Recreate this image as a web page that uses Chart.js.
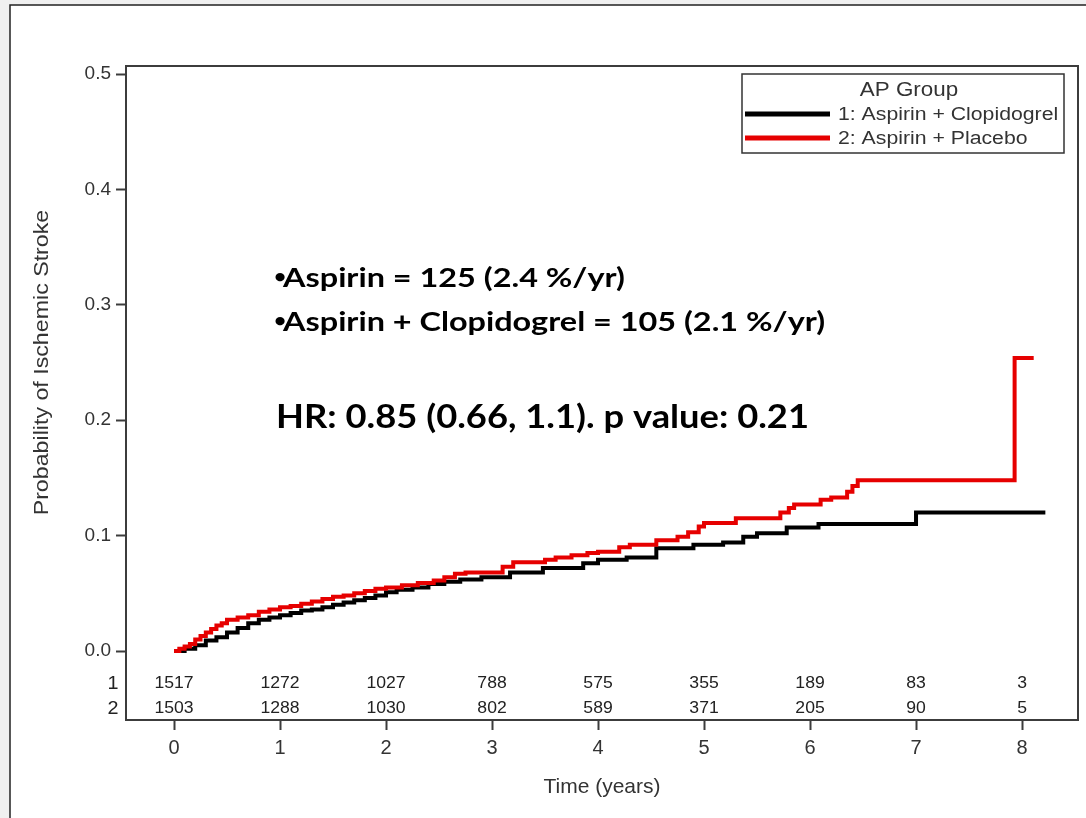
<!DOCTYPE html>
<html>
<head>
<meta charset="utf-8">
<title>Probability of Ischemic Stroke by AP Group</title>
<script src="https://cdn.jsdelivr.net/npm/chart.js@4.4.1/dist/chart.umd.min.js"></script>
<style>
  html, body { margin: 0; padding: 0; background: #f0f0f0; }
  canvas { display: block; }
</style>
</head>
<body>
<canvas id="kmChart" width="1086" height="818"></canvas>
<script>
// groups
const groupLabels = ['1: Aspirin + Clopidogrel', '2: Aspirin + Placebo'];
const groupColors = ['#000000', '#e60000'];

// cumulative incidence steps: time (years) and probability from that time on
const clopTimes = [0, 0.1, 0.2, 0.3, 0.4, 0.5, 0.6, 0.7, 0.8, 0.9, 1.0, 1.1, 1.2, 1.3, 1.4, 1.5, 1.6, 1.7, 1.8, 1.9,
  2.0, 2.1, 2.25, 2.4, 2.55, 2.7, 2.9, 3.17, 3.48, 3.86, 4.0, 4.27, 4.55, 4.9, 5.18, 5.37, 5.5, 5.78, 6.08, 7.0, 8.22];
const clopProb = [0, 0.002, 0.005, 0.009, 0.012, 0.016, 0.020, 0.024, 0.027, 0.029, 0.031, 0.033, 0.035, 0.036, 0.038, 0.040, 0.042, 0.044, 0.046, 0.048,
  0.051, 0.053, 0.055, 0.058, 0.060, 0.062, 0.064, 0.068, 0.072, 0.076, 0.079, 0.081, 0.089, 0.092, 0.094, 0.099, 0.102, 0.107, 0.110, 0.120, 0.120];

const placeboTimes = [0, 0.05, 0.1, 0.15, 0.2, 0.25, 0.3, 0.35, 0.4, 0.45, 0.5, 0.6, 0.7, 0.8, 0.9, 1.0, 1.1, 1.2, 1.3, 1.4, 1.5, 1.6, 1.7, 1.8, 1.9,
  2.0, 2.15, 2.3, 2.45, 2.55, 2.65, 2.75, 3.1, 3.2, 3.5, 3.6, 3.75, 3.9, 4.0, 4.2, 4.3, 4.55, 4.75, 4.85, 4.95, 5.0, 5.3, 5.72, 5.8, 5.85,
  6.1, 6.2, 6.35, 6.4, 6.45, 7.93, 8.11];
const placeboProb = [0, 0.002, 0.004, 0.006, 0.010, 0.013, 0.016, 0.019, 0.022, 0.024, 0.027, 0.029, 0.031, 0.034, 0.036, 0.038, 0.039, 0.041, 0.043, 0.045, 0.047, 0.048, 0.050, 0.052, 0.054,
  0.055, 0.057, 0.059, 0.061, 0.064, 0.067, 0.068, 0.073, 0.077, 0.079, 0.081, 0.083, 0.085, 0.086, 0.090, 0.092, 0.096, 0.099, 0.103, 0.108, 0.111, 0.115, 0.120, 0.124, 0.127,
  0.131, 0.133, 0.138, 0.143, 0.148, 0.254, 0.254];

// axes
const xTicks = [0, 1, 2, 3, 4, 5, 6, 7, 8];
const yTicks = [0, 0.1, 0.2, 0.3, 0.4, 0.5];

// number at risk under each x tick
const atRiskClop = [1517, 1272, 1027, 788, 575, 355, 189, 83, 3];
const atRiskPlacebo = [1503, 1288, 1030, 802, 589, 371, 205, 90, 5];

const eventLines = ['Aspirin = 125 (2.4 %/yr)', 'Aspirin + Clopidogrel = 105 (2.1 %/yr)'];
const hrLine = 'HR: 0.85 (0.66, 1.1). p value: 0.21';

const toPoints = (times, probs) => times.map((t, i) => ({ x: t, y: probs[i] }));

const SANS = '"Liberation Sans", Arial, sans-serif';
const TEXT = '#333333';

// text drawn a little wider than the font, like the original figure
function wideText(ctx, text, x, y, font, align, stretch) {
  ctx.save();
  ctx.font = font;
  ctx.textBaseline = 'middle';
  ctx.textAlign = align;
  ctx.translate(x, y);
  ctx.scale(stretch, 1);
  ctx.fillText(text, 0, 0);
  ctx.restore();
}

const figureDecor = {
  id: 'figureDecor',
  beforeDraw(chart) {
    const ctx = chart.ctx;
    ctx.save();
    ctx.fillStyle = '#f0f0f0';
    ctx.fillRect(0, 0, chart.width, chart.height);
    ctx.fillStyle = '#ffffff';
    ctx.fillRect(10, 5, chart.width - 10, chart.height - 5);
    ctx.strokeStyle = '#222222';
    ctx.lineWidth = 1.5;
    ctx.beginPath();
    ctx.moveTo(10, chart.height);
    ctx.lineTo(10, 5);
    ctx.lineTo(chart.width, 5);
    ctx.stroke();
    ctx.restore();
  },
  afterDraw(chart) {
    const ctx = chart.ctx;
    const area = chart.chartArea;
    const xs = chart.scales.x;

    // plot frame
    ctx.save();
    ctx.strokeStyle = '#3c3c3c';
    ctx.lineWidth = 2;
    ctx.strokeRect(area.left, area.top, area.right - area.left, area.bottom - area.top);

    // y axis title, centred on the 0 - 0.5 range
    const yMid = (chart.scales.y.getPixelForValue(0) + chart.scales.y.getPixelForValue(0.5)) / 2;
    ctx.save();
    ctx.translate(42, yMid);
    ctx.rotate(-Math.PI / 2);
    ctx.scale(1.16, 1);
    ctx.fillStyle = TEXT;
    ctx.font = '20px ' + SANS;
    ctx.textAlign = 'center';
    ctx.textBaseline = 'middle';
    ctx.fillText('Probability of Ischemic Stroke', 0, 0);
    ctx.restore();

    // numbers at risk
    ctx.fillStyle = '#222222';
    const rows = [atRiskClop, atRiskPlacebo];
    const rowY = [area.bottom - 36, area.bottom - 11];
    rows.forEach((row, r) => {
      wideText(ctx, String(r + 1), area.left - 13, rowY[r], '18px ' + SANS, 'center', 1.1);
      row.forEach((n, i) => {
        wideText(ctx, String(n), xs.getPixelForValue(xTicks[i]), rowY[r], '16px ' + SANS, 'center', 1.1);
      });
    });

    // event counts and hazard ratio
    ctx.fillStyle = '#000000';
    eventLines.forEach((line, i) => {
      const y = 278 + i * 44;
      wideText(ctx, '\u2022', 274, y - 1, 'bold 19px Lato, sans-serif', 'left', 1.1);
      wideText(ctx, line, 283, y, 'bold 27px Lato, sans-serif', 'left', 1.2);
    });
    wideText(ctx, hrLine, 276, 418, 'bold 32px Lato, sans-serif', 'left', 1.135);

    // legend
    const lx = 742, ly = 74, lw = 322, lh = 79;
    ctx.fillStyle = '#ffffff';
    ctx.fillRect(lx, ly, lw, lh);
    ctx.strokeStyle = '#333333';
    ctx.lineWidth = 1.5;
    ctx.strokeRect(lx, ly, lw, lh);
    ctx.fillStyle = TEXT;
    wideText(ctx, 'AP Group', lx + lw / 2 + 6, ly + 16, '20px ' + SANS, 'center', 1.12);
    chart.data.datasets.forEach((ds, i) => {
      const y = ly + 40 + i * 24;
      ctx.strokeStyle = ds.borderColor;
      ctx.lineWidth = 5;
      ctx.beginPath();
      ctx.moveTo(lx + 3, y);
      ctx.lineTo(lx + 88, y);
      ctx.stroke();
      ctx.fillStyle = TEXT;
      wideText(ctx, ds.label, lx + 96, y + 1, '18px ' + SANS, 'left', 1.18);
    });
    ctx.restore();
  }
};

new Chart(document.getElementById('kmChart'), {
  type: 'line',
  data: {
    datasets: [
      {
        label: groupLabels[0],
        data: toPoints(clopTimes, clopProb),
        borderColor: groupColors[0],
        order: 1
      },
      {
        label: groupLabels[1],
        data: toPoints(placeboTimes, placeboProb),
        borderColor: groupColors[1],
        order: 0
      }
    ]
  },
  options: {
    responsive: false,
    devicePixelRatio: 1,
    animation: false,
    layout: { padding: { top: 66, right: 8, left: 0, bottom: 0 } },
    elements: {
      line: { stepped: true, borderWidth: 4, fill: false, tension: 0, borderCapStyle: 'butt' },
      point: { radius: 0, hoverRadius: 0 }
    },
    plugins: {
      legend: { display: false },
      tooltip: { enabled: false }
    },
    scales: {
      x: {
        type: 'linear',
        min: -0.453,
        max: 8.528,
        afterBuildTicks: s => { s.ticks = xTicks.map(v => ({ value: v })); },
        afterFit: s => { s.height = 98; },
        border: { display: false },
        grid: { drawOnChartArea: false, drawTicks: true, tickLength: 10, tickWidth: 2, tickColor: '#3c3c3c' },
        ticks: { autoSkip: false, maxRotation: 0, padding: 6, color: TEXT, font: { family: SANS, size: 20 }, callback: v => String(v) },
        title: { display: true, text: 'Time (years)', color: TEXT, font: { family: SANS, size: 21 }, padding: { top: 0, bottom: 18 } }
      },
      y: {
        min: -0.0598,
        max: 0.507,
        afterBuildTicks: s => { s.ticks = yTicks.map(v => ({ value: v })); },
        afterFit: s => { s.width = 126; },
        border: { display: false },
        grid: { drawOnChartArea: false, drawTicks: true, tickLength: 10, tickWidth: 2, tickColor: '#3c3c3c' },
        ticks: { autoSkip: false, padding: 5, color: TEXT, font: { family: SANS, size: 19 }, callback: v => v.toFixed(1) }
      }
    }
  },
  plugins: [figureDecor]
});
</script>
</body>
</html>
